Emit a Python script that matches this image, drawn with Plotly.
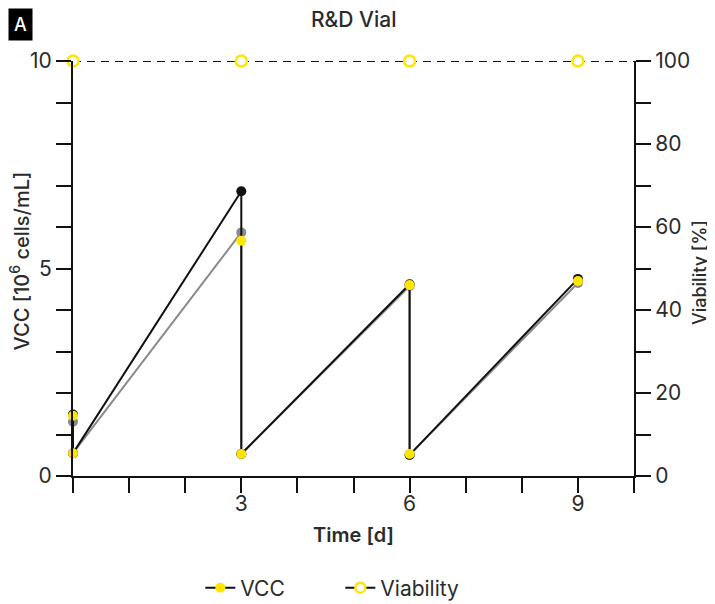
import plotly.graph_objects as go

# ---- data ----
days = [0, 0, 3, 3, 6, 6, 9]
vcc_rep1 = [1.48, 0.55, 6.86, 0.53, 4.62, 0.51, 4.75]   # black
vcc_rep2 = [1.31, 0.55, 5.87, 0.53, 4.58, 0.51, 4.65]   # gray
vcc_mean = [1.45, 0.55, 5.67, 0.53, 4.60, 0.53, 4.70]   # yellow markers
via_days = [0, 3, 6, 9]
viability = [100, 100, 100, 100]

x_ticks = list(range(0, 11))
x_labels = ["3" if v == 3 else "6" if v == 6 else "9" if v == 9 else "" for v in x_ticks]
y_ticks = list(range(0, 11))
y_labels = [str(v) if v % 5 == 0 else "" for v in y_ticks]
y2_ticks = list(range(0, 101, 10))
y2_labels = [str(v) if v % 20 == 0 else "" for v in y2_ticks]

YEL = "#FFE500"
FONT = "Inter"
TXT = "#2b2b2b"

fig = go.Figure()

fig.add_trace(go.Scatter(x=days, y=vcc_rep2, mode="lines+markers",
                         line=dict(color="#8a8a8a", width=2),
                         marker=dict(color="#8a8a8a", size=10),
                         showlegend=False, cliponaxis=False))
fig.add_trace(go.Scatter(x=days, y=vcc_rep1, mode="lines+markers",
                         line=dict(color="#111111", width=2),
                         marker=dict(color="#111111", size=10),
                         showlegend=False, cliponaxis=False))
fig.add_trace(go.Scatter(x=days, y=vcc_mean, mode="markers",
                         marker=dict(color=YEL, size=10),
                         showlegend=False, cliponaxis=False))
fig.add_trace(go.Scatter(x=via_days, y=viability, mode="markers", yaxis="y2",
                         marker=dict(color="white", size=11, line=dict(color=YEL, width=2.5)),
                         showlegend=False, cliponaxis=False))

# legend entries
fig.add_trace(go.Scatter(x=[None], y=[None], mode="lines+markers", name="VCC",
                         line=dict(color="#111111", width=2),
                         marker=dict(color=YEL, size=10)))
fig.add_trace(go.Scatter(x=[None], y=[None], mode="lines+markers", name="Viability",
                         line=dict(color="#111111", width=2),
                         marker=dict(color="white", size=10, line=dict(color=YEL, width=2.5))))

fig.add_shape(type="line", xref="paper", x0=0, x1=1, yref="y2", y0=100, y1=100,
              line=dict(color="#111111", width=2, dash="8px,6px"), layer="below")

axis_common = dict(showline=True, linecolor="#111111", linewidth=2, ticks="outside",
                   ticklen=15, tickwidth=2, tickcolor="#111111", showgrid=False,
                   zeroline=False, automargin=False,
                   tickfont=dict(family=FONT, size=21, color=TXT))

fig.update_layout(
    width=707, height=596,
    margin=dict(l=65, r=81, t=53, b=128),
    plot_bgcolor="white", paper_bgcolor="white",
    xaxis=dict(range=[0, 10], tickmode="array", tickvals=x_ticks, ticktext=x_labels,
               ticklabelstandoff=-7,
               title=dict(text="Time [d]", font=dict(family=FONT, size=20, color=TXT, weight=600), standoff=13),
               **axis_common),
    yaxis=dict(range=[0, 10], tickmode="array", tickvals=y_ticks, ticktext=y_labels,
               **axis_common),
    yaxis2=dict(range=[0, 100], overlaying="y", side="right", tickmode="array",
                tickvals=y2_ticks, ticktext=y2_labels,
                **axis_common),
    legend=dict(orientation="h", xref="container", x=0.272, xanchor="left",
                yref="container", y=0.0268, yanchor="middle",
                entrywidth=95, entrywidthmode="pixels",
                font=dict(family=FONT, size=21, color=TXT)),
    annotations=[
        dict(text="R&D Vial", x=0.5, xref="paper", y=1.1, yref="paper", yanchor="middle",
             showarrow=False, font=dict(family=FONT, size=21, color=TXT, weight=500)),
        dict(text="A", xref="paper", x=-0.1159, yref="paper", y=1.1277, xanchor="left", yanchor="top",
             showarrow=False, bgcolor="black", borderpad=5,
             font=dict(family=FONT, size=18, color="white", weight=500)),
        dict(text="VCC [10<sup>6</sup> cells/mL]", xref="paper", x=-0.0955, yref="paper", y=0.518,
             xanchor="center", yanchor="middle", textangle=-90, showarrow=False,
             font=dict(family=FONT, size=20, color=TXT, weight=500)),
        dict(text="Viability [%]", xref="paper", x=1.1159, yref="paper", y=0.489,
             xanchor="center", yanchor="middle", textangle=-90, showarrow=False,
             font=dict(family=FONT, size=18, color=TXT, weight=500)),
    ],
)

fig.write_html("out.html")
